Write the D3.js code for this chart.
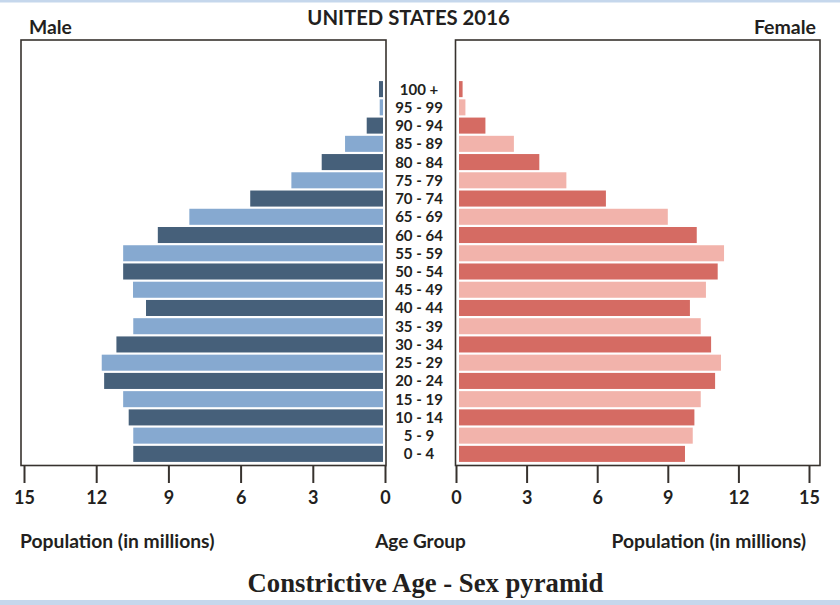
<!DOCTYPE html>
<html>
<head>
<meta charset="utf-8">
<script src="https://cdn.jsdelivr.net/npm/d3@7"></script>
<style>
  html, body { margin: 0; padding: 0; background: #fff; }
  svg { display: block; }
</style>
</head>
<body>
<svg id="chart" width="840" height="605"></svg>
<script>
// ---- data ----
const ageGroups = ["0 - 4","5 - 9","10 - 14","15 - 19","20 - 24","25 - 29","30 - 34","35 - 39","40 - 44","45 - 49",
                   "50 - 54","55 - 59","60 - 64","65 - 69","70 - 74","75 - 79","80 - 84","85 - 89","90 - 94","95 - 99","100 +"];
const male   = [10.46,10.46,10.65,10.88,11.67,11.77,11.16,10.46,9.93,10.47,10.88,10.88,9.44,8.13,5.60,3.89,2.63,1.66,0.76,0.22,0.25];
const female = [9.73,10.06,10.13,10.40,11.01,11.26,10.84,10.40,9.94,10.62,11.12,11.39,10.23,9.00,6.37,4.69,3.54,2.46,1.25,0.40,0.28];
const tickValues = [0,3,6,9,12,15];

const title = "UNITED STATES 2016";
const subtitle = "Constrictive Age - Sex pyramid";

// ---- layout ----
const svg = d3.select("#chart");
const ink = "#231f20";
const maleDark = "#46607a", maleLight = "#86a9d0";
const femDark = "#d56b63", femLight = "#f2b3ab";

// background strips
svg.append("rect").attr("x",0).attr("y",0).attr("width",840).attr("height",2.5).attr("fill","#c5d7ec");
svg.append("rect").attr("x",0).attr("y",600).attr("width",840).attr("height",5).attr("fill","#c5d7ec");

const xL = d3.scaleLinear().domain([0,15]).range([385,24]);
const xR = d3.scaleLinear().domain([0,15]).range([456,809]);
const y = d3.scaleBand().domain(ageGroups.slice().reverse()).range([80,463])
  .paddingInner(0.12).paddingOuter(0.06);

// frames
const frameTop = 40, frameBottom = 465.5;
svg.append("rect").attr("x",21).attr("y",frameTop).attr("width",365).attr("height",frameBottom-frameTop)
  .attr("fill","none").attr("stroke","#37322e").attr("stroke-width",1.6);
svg.append("rect").attr("x",455.5).attr("y",frameTop).attr("width",364.5).attr("height",frameBottom-frameTop)
  .attr("fill","none").attr("stroke","#37322e").attr("stroke-width",1.6);

// bars
svg.append("g").selectAll("rect").data(ageGroups).join("rect")
  .attr("x",(d,i)=>xL(male[i]))
  .attr("y",d=>y(d))
  .attr("width",(d,i)=>xL(0)-2-xL(male[i]))
  .attr("height",y.bandwidth())
  .attr("fill",(d,i)=> i%2===0 ? maleDark : maleLight);

svg.append("g").selectAll("rect").data(ageGroups).join("rect")
  .attr("x",xR(0)+3)
  .attr("y",d=>y(d))
  .attr("width",(d,i)=>xR(female[i])-xR(0)-3)
  .attr("height",y.bandwidth())
  .attr("fill",(d,i)=> i%2===0 ? femDark : femLight);

const sans = "Lato, 'Open Sans', sans-serif";

// age labels
svg.append("g").selectAll("text").data(ageGroups).join("text")
  .attr("x",419).attr("y",d=>y(d)+y.bandwidth()/2+5.5)
  .attr("text-anchor","middle")
  .attr("font-family",sans).attr("font-weight",700)
  .attr("font-size",15).attr("fill",ink)
  .text(d=>d);

// axes
function styleAxis(g){
  g.select(".domain").remove();
  g.selectAll(".tick line").attr("stroke","#37322e").attr("stroke-width",2);
  g.selectAll(".tick text").attr("font-family",sans)
    .attr("font-weight",700).attr("font-size",18).attr("fill",ink);
}
svg.append("g").attr("transform","translate(0,466)")
  .call(d3.axisBottom(xL).tickValues(tickValues).tickFormat(d3.format("d")).tickSize(17).tickPadding(8))
  .call(styleAxis);
svg.append("g").attr("transform","translate(0,466)")
  .call(d3.axisBottom(xR).tickValues(tickValues).tickFormat(d3.format("d")).tickSize(17).tickPadding(8))
  .call(styleAxis);

// texts
function txt(x,yy,s,size,anchor,family,weight){
  svg.append("text").attr("x",x).attr("y",yy).attr("text-anchor",anchor)
    .attr("font-family",family||sans).attr("font-weight",weight||700)
    .attr("font-size",size).attr("fill",ink).text(s);
}
txt(408.5,25,title,20.3,"middle");
txt(29,34,"Male",19.3,"start");
txt(816,34,"Female",19.5,"end");
txt(20,548,"Population (in millions)",19.3,"start");
txt(420.5,548,"Age Group",19,"middle");
txt(806,548,"Population (in millions)",19.3,"end");
txt(425.5,592,subtitle,26.7,"middle","'Liberation Serif', 'DejaVu Serif', serif",700);
</script>
</body>
</html>
